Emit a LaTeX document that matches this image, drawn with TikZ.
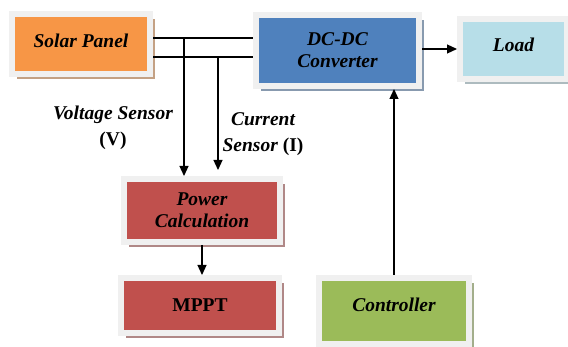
\documentclass[tikz,border=0pt]{standalone}
\usepackage{fontspec}
\setmainfont{Liberation Serif}
\usetikzlibrary{shadows,arrows.meta}
\definecolor{cOrange}{HTML}{F79646}
\definecolor{cBlue}{HTML}{4F81BD}
\definecolor{cLight}{HTML}{B7DEE8}
\definecolor{cRed}{HTML}{C0504D}
\definecolor{cGreen}{HTML}{9BBB59}
\definecolor{cFrame}{HTML}{F0F0F0}
\begin{document}
\begin{tikzpicture}[x=1pt,y=-1pt,
  box/.style n args={3}{draw=cFrame, line width=6pt, fill=#1,
     minimum width=#2, minimum height=#3, inner sep=0pt, align=center,
     font=\fontsize{19.5}{22}\selectfont\bfseries\itshape,
     drop shadow={shadow xshift=5pt, shadow yshift=-5.5pt, opacity=1, fill=#1!45!gray!80}},
  lbl/.style={font=\fontsize{19.5}{26}\selectfont\bfseries\itshape, inner sep=0pt, align=center},
  arr/.style={-{Triangle[length=10pt,width=9pt]}, line width=1.2pt},
  wire/.style={line width=1.2pt}]
\useasboundingbox (0,0) rectangle (568,347);

\node[box={cOrange}{138pt}{60pt}, text depth=7pt] (solar) at (81,44) {Solar Panel};
\node[box={cBlue}{163pt}{71pt}] (dcdc) at (337.5,50.5) {DC-DC\\Converter};
\node[box={cLight}{107pt}{60pt}, text depth=8pt] (load) at (513.5,49) {Load};
\node[box={cRed}{156pt}{63pt}] (power) at (202,210.5) {Power\\Calculation};
\node[box={cRed}{158pt}{55pt}, font=\fontsize{19.5}{22}\selectfont\bfseries] (mppt) at (200,305.5) {MPPT};
\node[box={cGreen}{150pt}{66pt}, text depth=13pt] (ctrl) at (394,311) {Controller};

\coordinate (p1) at (184,38);
\coordinate (p2) at (218,57);
\draw[wire] (solar.east |- p1) -- (dcdc.west |- p1);
\draw[wire] (solar.east |- p2) -- (dcdc.west |- p2);
\draw[arr] (p1) -- (p1 |- power.north);
\draw[arr] (p2) -- ([yshift=6pt]p2 |- power.north);
\draw[arr] (power.south) -- (power.south |- mppt.north);
\draw[arr] (dcdc.east |- load.west) -- (load.west);
\draw[arr] (ctrl.north) -- (ctrl.north |- dcdc.south);

\node[lbl] (vs) at (113,128) {Voltage Sensor\\{\upshape(V)}};
\node[lbl] (cs) at (263,134.5) {Current\\Sensor {\upshape(I)}};
\end{tikzpicture}
\end{document}
